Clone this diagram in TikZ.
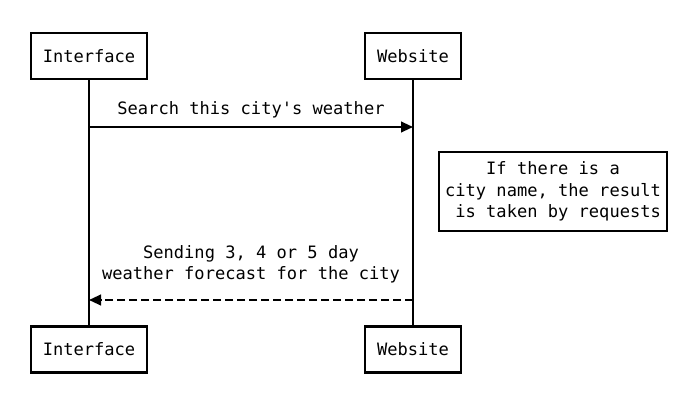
\documentclass[tikz,border=0pt]{standalone}
\usepackage{fontspec}
\setmonofont{DejaVu Sans Mono}
\usetikzlibrary{arrows.meta, positioning}
\def\lifesep{324}
\tikzstyle{actor}=[draw, line width=1.6pt, fill=white, font=\ttfamily\fontsize{12.8}{16}\selectfont, minimum height=34.5pt, inner xsep=9pt]
\tikzstyle{note}=[actor, align=center, minimum width=171pt, minimum height=59.25pt, inner xsep=3pt]
\tikzstyle{msg}=[font=\ttfamily\fontsize{12.8}{15.5}\selectfont, align=center]
\tikzstyle{call}=[line width=1.5pt, -{Triangle[length=9pt,width=8pt]}]
\tikzstyle{reply}=[call, dash pattern=on 6pt off 3pt]

\begin{document}
\begin{tikzpicture}[x=0.75pt, y=-0.75pt]
			\useasboundingbox (0,0) rectangle (686,403);

			% Draw the participants, top and bottom
			\node[actor] (I-top) at (89,56) {Interface};
			\node[actor] (W-top) at (89+\lifesep,56) {Website};
			\node[actor] (I-bot) at (89,349.5) {Interface};
			\node[actor] (W-bot) at (89+\lifesep,349.5) {Website};

			% Draw the lifelines
			\draw[line width=1.5pt] (I-top) -- (I-bot);
			\draw[line width=1.5pt] (W-top) -- (W-bot);

			% Points where the messages leave and arrive
			\coordinate (I-1) at (89,127);
			\coordinate (W-1) at (89+\lifesep,127);
			\coordinate (I-2) at (89,300);
			\coordinate (W-2) at (89+\lifesep,300);

			% Draw the messages
			\draw[call] (I-1) -- node[msg, above=2.5pt] (m-1) {Search this city's weather} (W-1);
			\draw[reply] (W-2) -- node[msg, above=9pt] (m-2) {Sending 3, 4 or 5 day\\weather forecast for the city} (I-2);

			% Annotate the website
			\node[note] (n-1) at (553,191.5) {If there is a\ \\city name, the result\\\ is taken by requests};
		\end{tikzpicture}
\end{document}
